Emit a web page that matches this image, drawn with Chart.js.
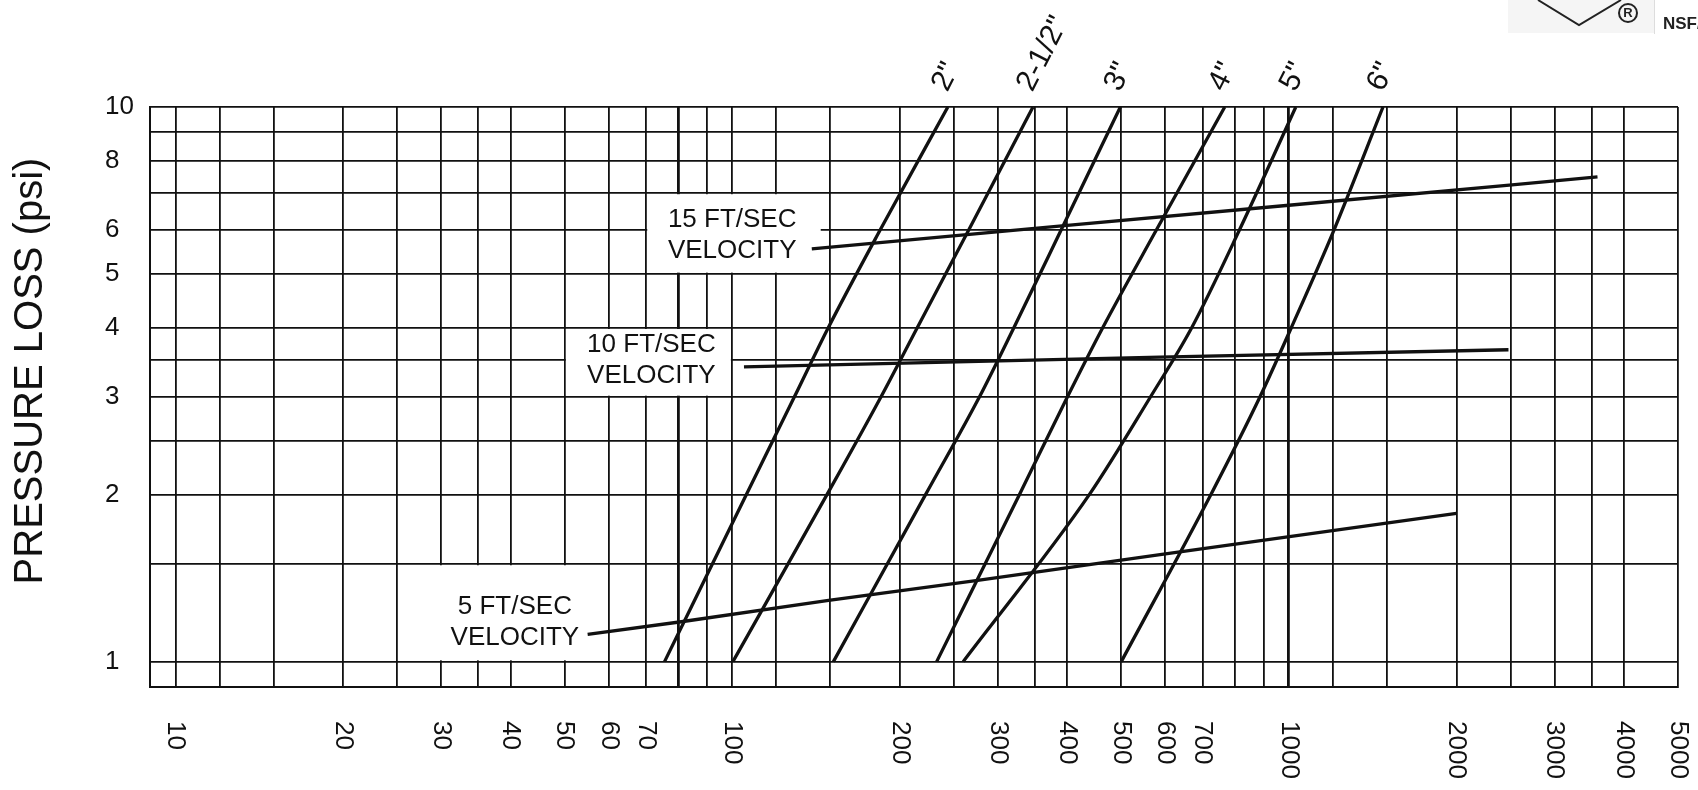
<!DOCTYPE html>
<html lang="en">
<head>
  <meta charset="UTF-8" />
  <title>Pressure Loss vs Flow</title>
  <script src="https://cdn.jsdelivr.net/npm/chart.js"></script>
  <style>
    html, body { margin: 0; padding: 0; background: #fff; }
  </style>
</head>
<body>
  <canvas id="grafico" width="1698" height="790"></canvas>

  <script>
    // grid + tick labels
    const xGrid = [10, 12, 15, 20, 25, 30, 35, 40, 50, 60, 70, 80, 90, 100, 120, 150, 200, 250, 300, 350, 400,
                   500, 600, 700, 800, 900, 1000, 1200, 1500, 2000, 2500, 3000, 3500, 4000, 5000];
    const yGrid = [1, 1.5, 2, 2.5, 3, 3.5, 4, 5, 6, 7, 8, 9, 10];
    const xLabels = [10, 20, 30, 40, 50, 60, 70, 100, 200, 300, 400, 500, 600, 700, 1000, 2000, 3000, 4000, 5000];
    const yLabels = [1, 2, 3, 4, 5, 6, 8, 10];

    // pipe size curves (flow read at each pressure loss)
    const psi = [1, 2, 3, 4, 6, 10];
    const sizes = ['2"', '2-1/2"', '3"', '4"', '5"', '6"'];
    const flow2 = [75.6, 106, 129.3, 148.8, 184.4, 244];
    const flow25 = [100.3, 148, 185, 215, 266, 347];
    const flow3 = [152, 222.5, 278, 320.6, 389.8, 498];
    const flow4 = [233, 328, 400, 463, 578, 767];
    const flow5 = [260, 438, 564, 669, 815, 1029];
    const flow6 = [500, 724, 887, 1010, 1205, 1476];

    // velocity lines
    const v5x = [55, 81, 149, 274, 587, 2000];
    const v5y = [1.12, 1.18, 1.29, 1.40, 1.56, 1.85];
    const v10x = [105, 587, 2480];
    const v10y = [3.40, 3.54, 3.65];
    const v15x = [139, 400, 1000, 2489, 3584];
    const v15y = [5.55, 6.12, 6.65, 7.23, 7.48];

    const FONT = '"Liberation Sans", Arial, Helvetica, sans-serif';
    const NEGRO = '#111';

    const pipeFlows = [flow2, flow25, flow3, flow4, flow5, flow6];
    const datasets = pipeFlows.map((f, i) => ({
      label: sizes[i],
      data: f.map((x, j) => ({ x: x, y: psi[j] })),
      showLine: true, pointRadius: 0, borderColor: NEGRO, borderWidth: 3.3,
      cubicInterpolationMode: 'monotone'
    }));
    [[v5x, v5y, '5 FT/SEC'], [v10x, v10y, '10 FT/SEC'], [v15x, v15y, '15 FT/SEC']].forEach(v => {
      datasets.push({
        label: v[2],
        data: v[0].map((x, j) => ({ x: x, y: v[1][j] })),
        showLine: true, pointRadius: 0, borderColor: NEGRO, borderWidth: 3.3, tension: 0
      });
    });

    // white boxes behind velocity labels (data coords) + text centres
    const cajas = [
      { x0: 70, x1: 145, y0: 5, y1: 7, cx: 100, cy: 5.88, txt: ['15 FT/SEC', 'VELOCITY'] },
      { x0: 50, x1: 100, y0: 3, y1: 4, cx: 71.6, cy: 3.49, txt: ['10 FT/SEC', 'VELOCITY'] },
      { x0: 25, x1: 60, y0: 1, y1: 1.5, cx: 40.7, cy: 1.175, txt: ['5 FT/SEC', 'VELOCITY'] }
    ];

    const extras = {
      id: 'extras',
      beforeDatasetsDraw(chart) {
        const { ctx, scales: { x, y } } = chart;
        ctx.save();
        ctx.fillStyle = '#fff';
        cajas.forEach(c => {
          const l = x.getPixelForValue(c.x0) + 1.3, r = x.getPixelForValue(c.x1) - 1.3;
          const t = y.getPixelForValue(c.y1) + 1.3, b = y.getPixelForValue(c.y0) - 1.3;
          ctx.fillRect(l, t, r - l, b - t);
        });
        ctx.restore();
      },
      afterDraw(chart) {
        const { ctx, scales: { x, y } } = chart;
        ctx.save();
        ctx.fillStyle = NEGRO;

        // y tick labels
        ctx.font = '26px ' + FONT;
        ctx.textAlign = 'left';
        ctx.textBaseline = 'middle';
        yLabels.forEach(v => ctx.fillText(String(v), 105, y.getPixelForValue(v)));

        // x tick labels, rotated clockwise
        xLabels.forEach(v => {
          ctx.save();
          ctx.translate(x.getPixelForValue(v), 721);
          ctx.rotate(Math.PI / 2);
          ctx.textAlign = 'left';
          ctx.textBaseline = 'middle';
          ctx.fillText(String(v), 0, 0);
          ctx.restore();
        });

        // y title
        ctx.save();
        ctx.translate(31, 371);
        ctx.rotate(-Math.PI / 2);
        ctx.font = '40px ' + FONT;
        ctx.textAlign = 'center';
        ctx.textBaseline = 'middle';
        ctx.fillText('PRESSURE LOSS (psi)', 0, 0);
        ctx.restore();

        // pipe size labels at top of each curve
        ctx.font = '30px ' + FONT;
        pipeFlows.forEach((f, i) => {
          const px = x.getPixelForValue(f[f.length - 1]);
          const py = y.getPixelForValue(psi[psi.length - 1]);
          ctx.save();
          ctx.translate(px - 8, py - 18);
          ctx.rotate(-63 * Math.PI / 180);
          ctx.textAlign = 'left';
          ctx.textBaseline = 'middle';
          ctx.fillText(sizes[i], 0, 0);
          ctx.restore();
        });

        // velocity labels
        ctx.font = '26px ' + FONT;
        ctx.textAlign = 'center';
        ctx.textBaseline = 'middle';
        cajas.forEach(c => {
          const cx = x.getPixelForValue(c.cx), cy = y.getPixelForValue(c.cy);
          ctx.fillText(c.txt[0], cx, cy - 15.5);
          ctx.fillText(c.txt[1], cx, cy + 15.5);
        });

        // partial certification logo, top right
        ctx.fillStyle = '#f5f5f5';
        ctx.fillRect(1508, 0, 146, 33);
        ctx.strokeStyle = '#222';
        ctx.lineWidth = 2;
        ctx.beginPath();
        ctx.moveTo(1538, 0); ctx.lineTo(1579, 25); ctx.lineTo(1621, 0);
        ctx.stroke();
        ctx.beginPath();
        ctx.arc(1628, 13, 9, 0, Math.PI * 2);
        ctx.stroke();
        ctx.fillStyle = '#222';
        ctx.font = 'bold 13px ' + FONT;
        ctx.fillText('R', 1628, 13.5);
        ctx.strokeStyle = '#ddd';
        ctx.lineWidth = 1;
        ctx.beginPath();
        ctx.moveTo(1654.5, 0); ctx.lineTo(1654.5, 34);
        ctx.stroke();
        ctx.font = 'bold 17px ' + FONT;
        ctx.textAlign = 'left';
        ctx.textBaseline = 'alphabetic';
        ctx.fillText('NSF/', 1663, 29);
        ctx.restore();
      }
    };

    const grosor = ctx => (ctx.tick && (ctx.tick.value === 80 || ctx.tick.value === 1000)) ? 2.8 : 1.8;

    new Chart(document.getElementById('grafico'), {
      type: 'scatter',
      data: { datasets: datasets },
      options: {
        responsive: false,
        animation: false,
        layout: { padding: { top: 107, right: 20, left: 0, bottom: 0 } },
        plugins: { legend: { display: false }, tooltip: { enabled: false } },
        scales: {
          x: {
            type: 'logarithmic', min: 9, max: 5000,
            afterBuildTicks: s => { s.ticks = xGrid.map(v => ({ value: v })); },
            afterFit: s => { s.height = 103; },
            ticks: { display: false },
            grid: { color: NEGRO, lineWidth: grosor, drawTicks: false },
            border: { color: NEGRO, width: 2 }
          },
          y: {
            type: 'logarithmic', min: 0.9, max: 10,
            afterBuildTicks: s => { s.ticks = yGrid.map(v => ({ value: v })); },
            afterFit: s => { s.width = 150; },
            ticks: { display: false },
            grid: { color: NEGRO, lineWidth: 1.8, drawTicks: false },
            border: { color: NEGRO, width: 2 }
          }
        }
      },
      plugins: [extras]
    });
  </script>
</body>
</html>
